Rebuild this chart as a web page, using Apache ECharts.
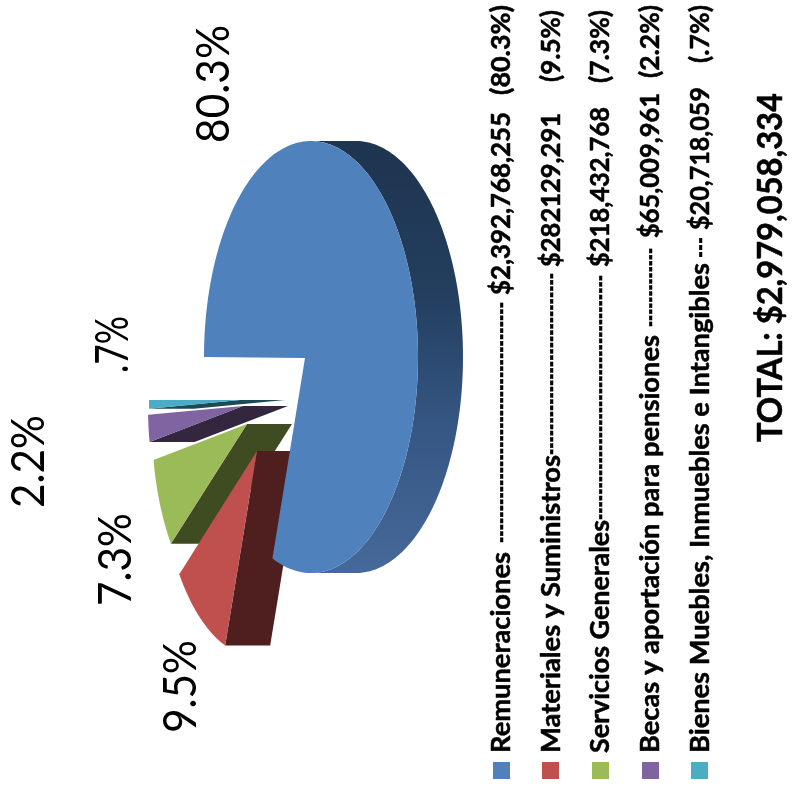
<!DOCTYPE html>
<html><head><meta charset="utf-8">
<style>html,body{margin:0;padding:0;background:#fff}#c{width:793px;height:790px}</style>
<script src="https://cdn.jsdelivr.net/npm/echarts@6/dist/echarts.min.js"></script>
</head><body><div id="c"></div>
<script>
// ---- data ----
const categories = ['Remuneraciones','Materiales y Suministros','Servicios Generales','Becas y aportación para pensiones','Bienes Muebles, Inmuebles e Intangibles'];
const amounts = [2392768255, 282129291, 218432768, 65009961, 20718059];
const amountLabels = ['$2,392,768,255','$282129,291','$218,432,768','$65,009,961','$20,718,059'];
const percentLabels = ['80.3%','9.5%','7.3%','2.2%','.7%'];
const totalLabel = 'TOTAL: $2,979,058,334';

// ---- styling and layout (not data) ----
const faceColors = ['#4F81BD','#C0504D','#9BBB59','#8064A2','#4BACC6'];
const wallColors = ['#1F3552','#4F1F1F','#3F4C21','#33263F','#1C4A55'];
const pieLayout = [
  {ex:311,ey:357,ax:305,ay:358,a:107,b:216,perspective:2},
  {ax:257,ay:451,a:97,b:206,perspective:0},
  {ax:247,ay:424,a:95,b:200,perspective:0},
  {ax:243,ay:406,a:95,b:200,perspective:0},
  {ax:240,ay:400,a:91,b:200,perspective:0}
];
const depth = 45;
const startDeg = 180;
const FAMILY = 'Lato, Carlito, Calibri, sans-serif';
// baseline x, start y, end y for each piece of a legend row: label, dashes, amount, percent
const legendRows = [
  {base:510,label:[753,552],dash:[543,302],amount:[295,112],pct:[95,5],dashCount:38},
  {base:560,label:[753,455],dash:[455,273],amount:[267,113],pct:[82,10],dashCount:29},
  {base:609,label:[753,520],dash:[520,275],amount:[267,107],pct:[83,10],dashCount:39},
  {base:659,label:[753,335],dash:[327,248],amount:[238,93],pct:[78,5],dashCount:13},
  {base:709,label:[753,263],dash:[258,237],amount:[230,87],pct:[63,5],dashCount:3}
];
const swatchX = [493,542,592,642,691];
const percentPos = [
  {base:229,y:[143,25]},{base:196,y:[733,640]},{base:131,y:[606,513]},{base:44,y:[508,415]},{base:128,y:[373,316]}
];

const measure = document.createElement('canvas').getContext('2d');
function rotatedText(text, base, y0, y1, size, weight, strokeWidth){
  const font = weight+' '+size+'px '+FAMILY;
  measure.font = font;
  const w = measure.measureText(text).width;
  return {type:'text', x:base-size*0.33, y:y0, rotation:Math.PI/2, scaleX:Math.abs(y0-y1)/w, silent:true,
    style:{text, font, fill:'#000', align:'left', verticalAlign:'middle', stroke:strokeWidth?'#000':null, lineWidth:strokeWidth||0}};
}
const dashText = n => '-'.repeat(n);

const total = amounts.reduce((s,v)=>s+v,0);
function arc(cx,cy,a,b,t0,t1,n){
  const pts=[];
  for(let i=0;i<=n;i++){const t=(t0+(t1-t0)*i/n)*Math.PI/180;pts.push([cx+a*Math.cos(t),cy+b*Math.sin(t)]);}
  return pts;
}
function poly(points,fill,z2){return {type:'polygon',z2,shape:{points},style:{fill,stroke:null}};}

function renderItem(params, api){
  const i = params.dataIndex;
  let before = 0;
  for(let k=0;k<i;k++) before += amounts[k];
  const value = api.value(0);
  const L = pieLayout[i];
  const t0 = startDeg + before/total*360;
  const t1 = t0 + value/total*360 + L.perspective;
  const ex = L.ex!==undefined?L.ex:L.ax, ey = L.ey!==undefined?L.ey:L.ay;
  const children=[];
  const order = i===0 ? 30 : 10 + (5-i)*2;
  const outer = arc(ex,ey,L.a,L.b,t0,t1,i===0?180:24);
  if(i===0){
    const right = arc(ex,ey,L.a,L.b,270,450,120);
    const shifted = right.map(p=>[p[0]+depth,p[1]]).reverse();
    children.push(poly(right.concat(shifted),{type:'linear',x:0,y:0,x2:0,y2:1,colorStops:[
      {offset:0,color:'#1E3450'},{offset:0.35,color:'#233E5E'},{offset:0.65,color:'#355682'},{offset:1,color:'#46699B'}]},order-1));
  } else {
    const p = outer[0];
    children.push(poly([[L.ax,L.ay],p,[p[0]+depth,p[1]],[L.ax+depth,L.ay]],wallColors[i],order-1));
  }
  children.push(poly([[L.ax,L.ay]].concat(outer),faceColors[i],order));
  return {type:'group',children};
}

const graphics = [];
legendRows.forEach((r,i)=>{
  graphics.push({type:'rect',shape:{x:swatchX[i],y:762,width:17,height:17},style:{fill:faceColors[i]},silent:true});
  graphics.push(rotatedText(categories[i],r.base,r.label[0],r.label[1],26,700,0.5));
  graphics.push(rotatedText(dashText(r.dashCount),r.base,r.dash[0],r.dash[1],26,700,0.5));
  graphics.push(rotatedText(amountLabels[i],r.base,r.amount[0],r.amount[1],26,700,0.5));
  graphics.push(rotatedText('('+percentLabels[i]+')',r.base,r.pct[0],r.pct[1],26,700,0.5));
});
percentPos.forEach((p,i)=>graphics.push(rotatedText(percentLabels[i],p.base,p.y[0],p.y[1],46,400,0)));
graphics.push(rotatedText(totalLabel,782,442,93,35,700,0.5));

const chart = echarts.init(document.getElementById('c'),null,{renderer:'canvas'});
chart.setOption({
  animation:false,
  backgroundColor:'#fff',
  graphic:{elements:graphics},
  series:[{type:'custom',coordinateSystem:'none',renderItem,silent:true,
    data:amounts.map((v,i)=>({name:categories[i],value:[v]}))}]
});
</script></body></html>
